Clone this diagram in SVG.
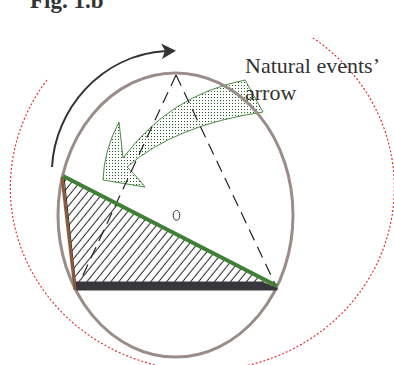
<svg xmlns="http://www.w3.org/2000/svg" width="394" height="365" viewBox="0 0 394 365">
<style>
.txt{font-family:"Liberation Serif","Times New Roman",serif;fill:#333}
.dash{fill:none;stroke:#222;stroke-width:1.2;stroke-dasharray:12,7}
</style>
<defs>
<pattern id="hatch" width="6.2" height="10" patternUnits="userSpaceOnUse" patternTransform="rotate(39)">
<line x1="3" y1="0" x2="3" y2="10" stroke="#222" stroke-width="1"/>
</pattern>
<pattern id="dots" width="3" height="3" patternUnits="userSpaceOnUse">
<rect width="3" height="3" fill="#fff"/>
<rect x="1" y="1" width="1" height="1" fill="#1f5f1f"/>
</pattern>
</defs>
<rect width="394" height="365" fill="#fff"/>

<g id="title"><text class="txt" x="30" y="7.5" font-size="23" font-weight="bold" fill="#222">Fig. 1.b</text></g>

<g id="outer-circle">
<path d="M47,80 A192,183 0 1 0 313,38" fill="none" stroke="#e8303a" stroke-width="1.2" stroke-dasharray="2,2"/>
</g>

<g id="rotation-arrow">
<path d="M52,167 C55,110 100,55 166,51" fill="none" stroke="#333" stroke-width="2"/>
<polygon points="161,43.5 176,50.7 162,59 165,50.7" fill="#333"/>
</g>

<g id="triangle">
<polygon points="64,177 277,287 76,288" fill="url(#hatch)" stroke="#222" stroke-width="1"/>
</g>

<g id="natural-arrow">
<path d="M245,80 Q170,95 123,158 Q121,140 119,122 Q104,150 103,180 L145,187 Q133,172 127,167 Q175,125 263,112 Z" fill="url(#dots)" stroke="#4a8a45" stroke-width="1"/>
</g>

<g id="ellipse">
<ellipse cx="175.5" cy="215" rx="117.5" ry="142" fill="none" stroke="#9a8c89" stroke-width="3"/>
</g>

<g id="connectors">
<line class="dash" x1="176" y1="75" x2="77" y2="288"/>
<line class="dash" x1="176" y1="75" x2="276" y2="286"/>
</g>

<g id="sides">
<polygon points="76,281.5 262,281.5 278,288 277,290.5 76,290.5" fill="#38383c"/>
<line x1="62" y1="177" x2="75" y2="290" stroke="#8b5a3c" stroke-width="3"/>
<line x1="63" y1="176" x2="277" y2="286" stroke="#3f7f36" stroke-width="4"/>
</g>

<g id="center"><ellipse cx="176.5" cy="215.3" rx="3.3" ry="5" fill="none" stroke="#333" stroke-width="1"/></g>

<g id="label">
<text class="txt" x="245" y="73" font-size="22">Natural events’</text>
<text class="txt" x="245" y="100" font-size="22">arrow</text>
</g>
</svg>
